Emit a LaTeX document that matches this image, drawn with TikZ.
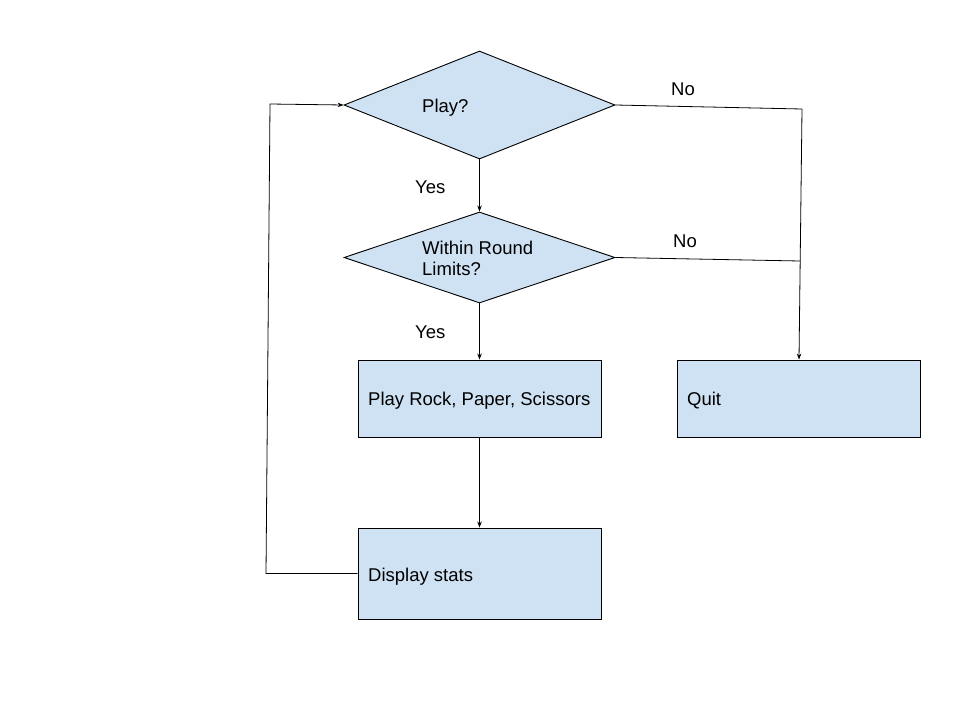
\documentclass[tikz,border=0pt]{standalone}
\usepackage{fontspec}
\setmainfont{Liberation Sans}
\usetikzlibrary{shapes.geometric,arrows.meta}
\definecolor{boxblue}{HTML}{CFE2F3}
\begin{document}
\begin{tikzpicture}[x=1pt,y=-1pt,
  shapeline/.style={draw=black,line width=0.9pt,fill=boxblue},
  decision/.style={shapeline,diamond,inner sep=0pt,minimum width=271pt,minimum height=#1},
  stepbox/.style={shapeline,rectangle,inner sep=0pt,minimum width=243pt,minimum height=#1},
  txt/.style={font=\fontsize{18.5}{22}\selectfont,inner sep=0pt,anchor=west,align=left},
  conn/.style={draw=black,line width=0.8pt},
  arr/.style={conn,-{Stealth[length=6pt,width=4.5pt]}}]
\useasboundingbox (0,0) rectangle (960,720);
% shapes
\node[decision=108pt] (play) at (479.5,105) {};
\node[decision=91pt] (within) at (479.5,257.5) {};
\node[stepbox=77pt] (rps) at (479.5,398.5) {};
\node[stepbox=77pt] (quit) at (799,398.5) {};
\node[stepbox=91pt] (disp) at (479.5,573.5) {};
% texts
\node[txt] (tplay) at (422,107.5) {Play?};
\node[txt] (twithin) at (422,258.5) {Within Round\\[-1pt]Limits?};
\node[txt] (trps) at (368,401) {Play Rock, Paper, Scissors};
\node[txt] (tquit) at (687,401) {Quit};
\node[txt] (tdisp) at (368,577) {Display stats};
\node[txt] (yes1) at (415,187) {Yes};
\node[txt] (yes2) at (415,332) {Yes};
\node[txt] (no1) at (671,89) {No};
\node[txt] (no2) at (673,241) {No};
% junction coordinates
\coordinate (j1) at (802,109);
\coordinate (j2) at (800,261);
\coordinate (l1) at (266,573.5);
\coordinate (l2) at (270,104);
% connectors
\draw[arr] (play.south) -- (within.north);
\draw[arr] (within.south) -- (rps.north);
\draw[arr] (rps.south) -- (disp.north);
\draw[conn] (play.east) -- (j1);
\draw[conn] (within.east) -- (j2);
\draw[arr] (j1) -- (quit.north);
\draw[arr] (disp.west) -- (l1) -- (l2) -- (play.west);
\end{tikzpicture}
\end{document}
